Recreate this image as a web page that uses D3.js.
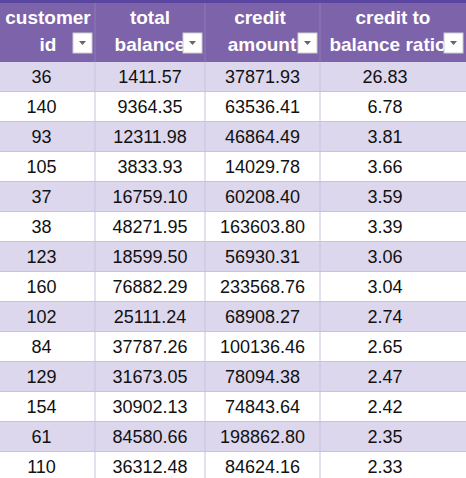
<!DOCTYPE html><html><head><meta charset="utf-8">
<script src="https://cdn.jsdelivr.net/npm/d3@7"></script>
<style>body{margin:0;background:#fff}</style></head><body>
<script>
const headers=[["customer","id"],["total","balance"],["credit","amount"],["credit to","balance ratio"]];
const customerIds=[36,140,93,105,37,38,123,160,102,84,129,154,61,110];
const totalBalance=["1411.57","9364.35","12311.98","3833.93","16759.10","48271.95","18599.50","76882.29","25111.24","37787.26","31673.05","30902.13","84580.66","36312.48"];
const creditAmount=["37871.93","63536.41","46864.49","14029.78","60208.40","163603.80","56930.31","233568.76","68908.27","100136.46","78094.38","74843.64","198862.80","84624.16"];
const ratio=["26.83","6.78","3.81","3.66","3.59","3.39","3.06","3.04","2.74","2.65","2.47","2.42","2.35","2.33"];
const W=466,H=478,headH=62,rowH=30;
const colEdges=[0,95,205,320,466];
const svg=d3.select("body").append("svg").attr("width",W).attr("height",H).style("font-family","Liberation Sans, Arial, sans-serif");
const y=d3.scaleBand().domain(d3.range(customerIds.length)).range([headH,headH+rowH*customerIds.length]);
svg.append("rect").attr("width",W).attr("height",headH).attr("fill","#7d64aa");
svg.append("rect").attr("width",W).attr("height",3).attr("fill","#5a46a0");
const defs=svg.append("defs");
colEdges.slice(0,4).forEach((x0,i)=>{
  defs.append("clipPath").attr("id","c"+i).append("rect").attr("x",x0).attr("y",0).attr("width",colEdges[i+1]-x0-22).attr("height",headH);
});
const hx=[[48,48],[150,150],[260,262],[393,388]];
headers.forEach((h,i)=>{
  svg.append("text").attr("x",hx[i][0]).attr("y",24).attr("text-anchor","middle").attr("fill","#fff").attr("font-weight","bold").attr("font-size",19).text(h[0]);
  svg.append("text").attr("x",hx[i][1]).attr("y",51).attr("text-anchor","middle").attr("fill","#fff").attr("font-weight","bold").attr("font-size",19).attr("clip-path",i>0?`url(#c${i})`:null).text(h[1]);
  const bx=colEdges[i+1]-22;
  svg.append("rect").attr("x",bx).attr("y",33).attr("width",19).attr("height",20).attr("fill","#fff").attr("stroke","#ccc");
  svg.append("path").attr("d",`M${bx+6},${41}L${bx+13},${41}L${bx+9.5},${45}Z`).attr("fill","#666");
});
const rows=svg.selectAll("g.r").data(customerIds.map((id,i)=>({i,vals:[id,totalBalance[i],creditAmount[i],ratio[i]]}))).join("g");
rows.append("rect").attr("x",0).attr("y",d=>y(d.i)).attr("width",W).attr("height",rowH).attr("fill",d=>d.i%2?"#ffffff":"#dcd7ec");
rows.append("line").attr("x1",0).attr("x2",W).attr("y1",d=>y(d.i)+rowH-0.5).attr("y2",d=>y(d.i)+rowH-0.5).attr("stroke","#c9c2de");
colEdges.slice(1,4).forEach(x=>svg.append("line").attr("x1",x).attr("x2",x).attr("y1",headH).attr("y2",H).attr("stroke","#c9c2de"));
colEdges.slice(1,4).forEach(x=>svg.append("line").attr("x1",x).attr("x2",x).attr("y1",3).attr("y2",headH).attr("stroke","#8f79b8"));
rows.each(function(d){
  const g=d3.select(this);
  d.vals.forEach((v,j)=>{
    const cx=(colEdges[j]+colEdges[j+1])/2 - (j==3?8:0) - (j==0?6:0);
    g.append("text").attr("x",cx).attr("y",y(d.i)+rowH/2+6).attr("text-anchor","middle").attr("font-size",18).attr("fill","#111").text(v);
  });
});
</script></body></html>
